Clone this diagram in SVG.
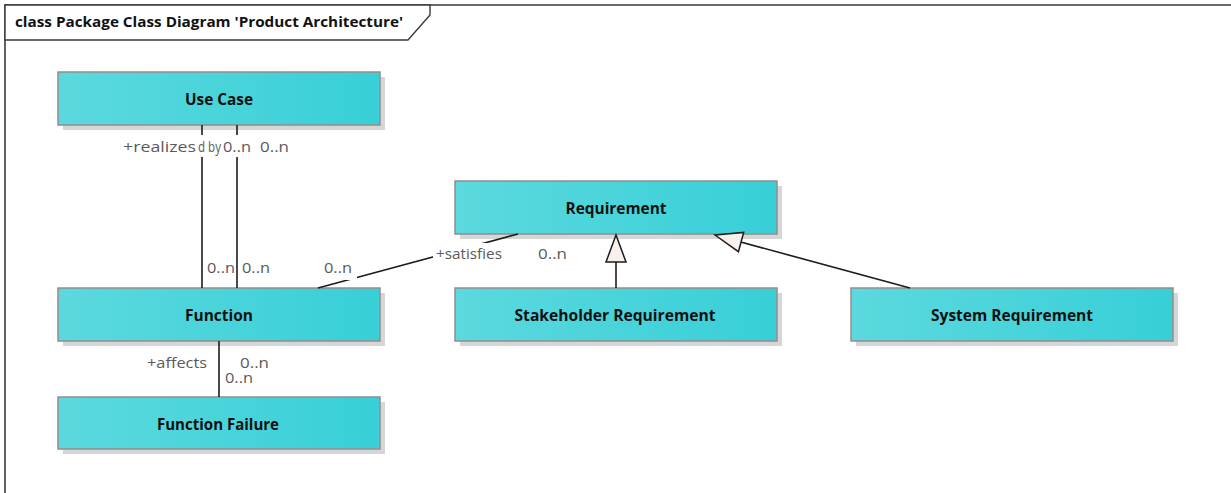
<svg xmlns="http://www.w3.org/2000/svg" width="1231" height="493" viewBox="0 0 1231 493">
  <defs>
    <linearGradient id="classFill" x1="0" y1="0" x2="1" y2="0">
      <stop offset="0" stop-color="#5bd9de"/>
      <stop offset="1" stop-color="#38cfd7"/>
    </linearGradient>
    <marker id="gen" viewBox="-30 -12 32 24" refX="0" refY="0" markerWidth="32" markerHeight="24" markerUnits="userSpaceOnUse" orient="auto" overflow="visible">
      <path d="M0,0 L-27,-10 L-27,10 Z" fill="#f7f0ed" stroke="#1c1c1c" stroke-width="1.5" stroke-linejoin="miter"/>
    </marker>
    <style>
      .frame { fill: none; stroke: #3a3a3a; stroke-width: 1.6; }
      .tab { fill: #ffffff; stroke: #3a3a3a; stroke-width: 1.4; }
      .title { font-family: "Open Sans", "Liberation Sans", sans-serif; font-weight: bold; font-size: 14.5px; fill: #111111; }
      .shadow { fill: #d6d6d6; }
      .box { fill: url(#classFill); stroke: #958c8c; stroke-width: 1.5; }
      .name { font-family: "Open Sans", "Liberation Sans", sans-serif; font-weight: bold; font-size: 16px; fill: #111111; text-anchor: middle; }
      .conn { fill: none; stroke: #1c1c1c; stroke-width: 1.6; }
      .lbl { font-family: "Open Sans", "Liberation Sans", sans-serif; font-size: 14.5px; fill: #5a5a5a; }
      .bg { fill: #ffffff; }
    </style>
  </defs>

  <rect x="0" y="0" width="1231" height="493" fill="#ffffff"/>

  <!-- diagram frame with its name tab -->
  <g id="frame">
    <path class="frame" d="M5,493 L5,5 L1231,5"/>
    <path class="tab" d="M5,5 L430,5 L430,15 L408,40 L5,40 Z"/>
    <text class="title" x="15" y="27" textLength="388" lengthAdjust="spacingAndGlyphs">class Package Class Diagram 'Product Architecture'</text>
  </g>

  <!-- classes -->
  <g id="use-case">
    <rect class="shadow" x="63" y="77" width="322" height="53"/>
    <rect class="box" x="58" y="72" width="322" height="53"/>
    <text class="name" x="219" y="105" textLength="68" lengthAdjust="spacingAndGlyphs">Use Case</text>
  </g>

  <g id="function">
    <rect class="shadow" x="63" y="293" width="322" height="53"/>
    <rect class="box" x="58" y="288" width="322" height="53"/>
    <text class="name" x="219" y="321" textLength="68" lengthAdjust="spacingAndGlyphs">Function</text>
  </g>

  <g id="function-failure">
    <rect class="shadow" x="63" y="402" width="322" height="52"/>
    <rect class="box" x="58" y="397" width="322" height="52"/>
    <text class="name" x="218" y="430" textLength="122" lengthAdjust="spacingAndGlyphs">Function Failure</text>
  </g>

  <g id="requirement">
    <rect class="shadow" x="460" y="186" width="322" height="53"/>
    <rect class="box" x="455" y="181" width="322" height="53"/>
    <text class="name" x="616" y="214" textLength="101" lengthAdjust="spacingAndGlyphs">Requirement</text>
  </g>

  <g id="stakeholder-requirement">
    <rect class="shadow" x="460" y="293" width="322" height="53"/>
    <rect class="box" x="455" y="288" width="322" height="53"/>
    <text class="name" x="615" y="321" textLength="201" lengthAdjust="spacingAndGlyphs">Stakeholder Requirement</text>
  </g>

  <g id="system-requirement">
    <rect class="shadow" x="856" y="293" width="322" height="53"/>
    <rect class="box" x="851" y="288" width="322" height="53"/>
    <text class="name" x="1012" y="321" textLength="162" lengthAdjust="spacingAndGlyphs">System Requirement</text>
  </g>

  <!-- associations and generalizations -->
  <g id="connectors">
    <line class="conn" x1="202" y1="125" x2="202" y2="288"/>
    <line class="conn" x1="237" y1="125" x2="237" y2="288"/>
    <line class="conn" x1="318" y1="288" x2="518" y2="234"/>
    <line class="conn" x1="219" y1="341" x2="219" y2="397"/>
    <line class="conn" x1="616" y1="288" x2="616" y2="235" marker-end="url(#gen)"/>
    <line class="conn" x1="910" y1="288" x2="715" y2="235" marker-end="url(#gen)"/>

    <!-- role and multiplicity labels -->
    <rect class="bg" x="121" y="135" width="78" height="22"/>
    <text class="lbl" x="123" y="152" textLength="73" lengthAdjust="spacingAndGlyphs">+realizes</text>
    <rect class="bg" x="197" y="135" width="26" height="22"/>
    <text class="lbl" x="198" y="152" textLength="23" lengthAdjust="spacingAndGlyphs">d by</text>
    <rect class="bg" x="222" y="135" width="32" height="22"/>
    <text class="lbl" x="223" y="152" textLength="28" lengthAdjust="spacingAndGlyphs">0..n</text>
    <rect class="bg" x="256" y="135" width="36" height="22"/>
    <text class="lbl" x="260" y="152" textLength="29" lengthAdjust="spacingAndGlyphs">0..n</text>

    <text class="lbl" x="207" y="273" textLength="28" lengthAdjust="spacingAndGlyphs">0..n</text>
    <text class="lbl" x="242" y="273" textLength="28" lengthAdjust="spacingAndGlyphs">0..n</text>
    <rect class="bg" x="322" y="262" width="35" height="18"/>
    <text class="lbl" x="324" y="273" textLength="28" lengthAdjust="spacingAndGlyphs">0..n</text>

    <rect class="bg" x="433" y="243" width="71" height="19"/>
    <text class="lbl" x="436" y="259" textLength="66" lengthAdjust="spacingAndGlyphs">+satisfies</text>
    <text class="lbl" x="538" y="259" textLength="29" lengthAdjust="spacingAndGlyphs">0..n</text>

    <text class="lbl" x="147" y="368" textLength="60" lengthAdjust="spacingAndGlyphs">+affects</text>
    <text class="lbl" x="240" y="368" textLength="29" lengthAdjust="spacingAndGlyphs">0..n</text>
    <text class="lbl" x="225" y="383" textLength="28" lengthAdjust="spacingAndGlyphs">0..n</text>
  </g>
</svg>
